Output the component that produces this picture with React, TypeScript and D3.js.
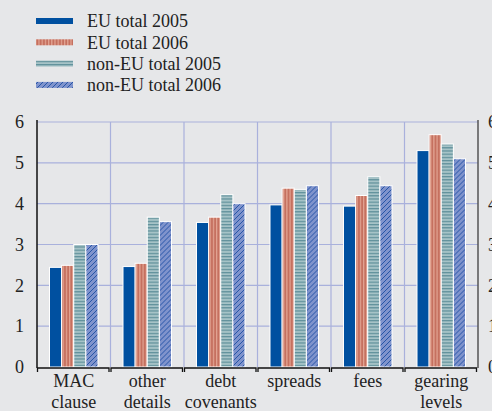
import React from "react";
import * as d3 from "d3";

const categories = [["MAC", "clause"], ["other", "details"], ["debt", "covenants"], ["spreads"], ["fees"], ["gearing", "levels"]];
const seriesNames = ["EU total 2005", "EU total 2006", "non-EU total 2005", "non-EU total 2006"];
const euTotal2005 = [2.44, 2.46, 3.54, 3.97, 3.94, 5.3];
const euTotal2006 = [2.49, 2.54, 3.67, 4.38, 4.2, 5.69];
const nonEuTotal2005 = [3.0, 3.67, 4.22, 4.35, 4.66, 5.46];
const nonEuTotal2006 = [3.0, 3.56, 4.0, 4.44, 4.44, 5.1];
const yTicks = [0, 1, 2, 3, 4, 5, 6];

const W = 492, H = 411;
const left = 37, right = 478, top = 122, bottom = 367;
const BG = "#e6e7e9";
const GRID = "#a9b1dc";
const FONT = "'Liberation Serif', 'Times New Roman', serif";

const fills = ["#0050a0", "url(#pRed)", "url(#pTeal)", "url(#pHatch)"];

export default function App() {
  const values = [euTotal2005, euTotal2006, nonEuTotal2005, nonEuTotal2006];
  const catKeys = categories.map((c) => c.join(" "));
  const x = d3.scaleBand<string>().domain(catKeys).range([left, right]).padding(0);
  const bw = x.bandwidth();
  const inner = d3.scaleBand<string>().domain(seriesNames).range([12.5, 61]).padding(0);
  const y = d3.scaleLinear().domain([0, 6]).range([bottom, top]);

  return (
    <div style={{ position: "fixed", left: 0, top: 0, width: W, height: H }}>
      <svg width={W} height={H} style={{ display: "block" }}>
        <defs>
          <pattern id="pRed" patternUnits="userSpaceOnUse" width="3.2" height="4">
            <rect width="3.2" height="4" fill="#c5705f" />
            <rect x="0" width="1.2" height="4" fill="#e3a594" />
          </pattern>
          <pattern id="pTeal" patternUnits="userSpaceOnUse" width="4" height="3.2">
            <rect width="4" height="3.2" fill="#a6c3c7" />
            <rect y="0" width="4" height="1.2" fill="#5f909a" />
          </pattern>
          <pattern id="pHatch" patternUnits="userSpaceOnUse" width="5" height="5">
            <rect width="5" height="5" fill="#7f93cc" />
            <path d="M-1,6 L6,-1 M-1,1 L1,-1 M4,6 L6,4" stroke="#1d4fa3" strokeWidth="0.9" />
          </pattern>
        </defs>
        <rect width={W} height={H} fill={BG} />

        {/* gridlines */}
        {yTicks.filter((t) => t > 0).map((t) => (
          <line key={"g" + t} x1={left} x2={right} y1={y(t)} y2={y(t)} stroke={GRID} strokeWidth={1.2} />
        ))}
        {catKeys.slice(1).map((c) => (
          <line key={"v" + c} x1={x(c)!} x2={x(c)!} y1={top} y2={bottom} stroke={GRID} strokeWidth={1.2} />
        ))}

        {/* bars */}
        {catKeys.map((c, ci) => (
          <g key={c} transform={`translate(${x(c)},0)`}>
            {seriesNames.map((s, si) => (
              <rect
                key={s}
                x={inner(s)!}
                y={y(values[si][ci])}
                width={inner.bandwidth()}
                height={y(0) - y(values[si][ci])}
                fill={fills[si]}
                stroke="#ffffff"
                strokeWidth={1}
              />
            ))}
          </g>
        ))}

        {/* axes */}
        <line x1={left} x2={left} y1={top - 2} y2={bottom + 1} stroke="#111" strokeWidth={1.5} />
        <line x1={right} x2={right} y1={top - 2} y2={bottom + 1} stroke="#555" strokeWidth={1.5} />
        {catKeys.map((c) => {
          const x0 = x(c)! + 0.5, x1 = x(c)! + bw - 1.5;
          return (
            <path key={"b" + c} d={`M${x0},${bottom + 5}V${bottom + 1}H${x1}V${bottom + 5}`} fill="none" stroke="#111" strokeWidth={1.3} />
          );
        })}

        {/* y labels */}
        {yTicks.map((t) => (
          <text key={"yl" + t} x={24} y={y(t)} dy="0.35em" textAnchor="end" fontFamily={FONT} fontSize={18} fill="#222">{t}</text>
        ))}
        {yTicks.map((t) => (
          <text key={"yr" + t} x={488} y={y(t)} dy="0.35em" textAnchor="start" fontFamily={FONT} fontSize={18} fill="#222">{t}</text>
        ))}

        {/* category labels */}
        {categories.map((lines, ci) => (
          <text key={"cl" + ci} x={x(catKeys[ci])! + bw / 2} y={387} textAnchor="middle" fontFamily={FONT} fontSize={18} fill="#222">
            {lines.map((l, li) => (
              <tspan key={li} x={x(catKeys[ci])! + bw / 2} dy={li === 0 ? 0 : 21}>{l}</tspan>
            ))}
          </text>
        ))}

        {/* legend */}
        {seriesNames.map((s, si) => {
          const cy = 21 + si * 21.3;
          return (
            <g key={"lg" + s}>
              <rect x={36} y={cy - 3} width={37} height={6} fill={fills[si]} />
              <text x={87} y={cy} dy="0.35em" fontFamily={FONT} fontSize={18} fill="#222">{s}</text>
            </g>
          );
        })}
      </svg>
    </div>
  );
}
